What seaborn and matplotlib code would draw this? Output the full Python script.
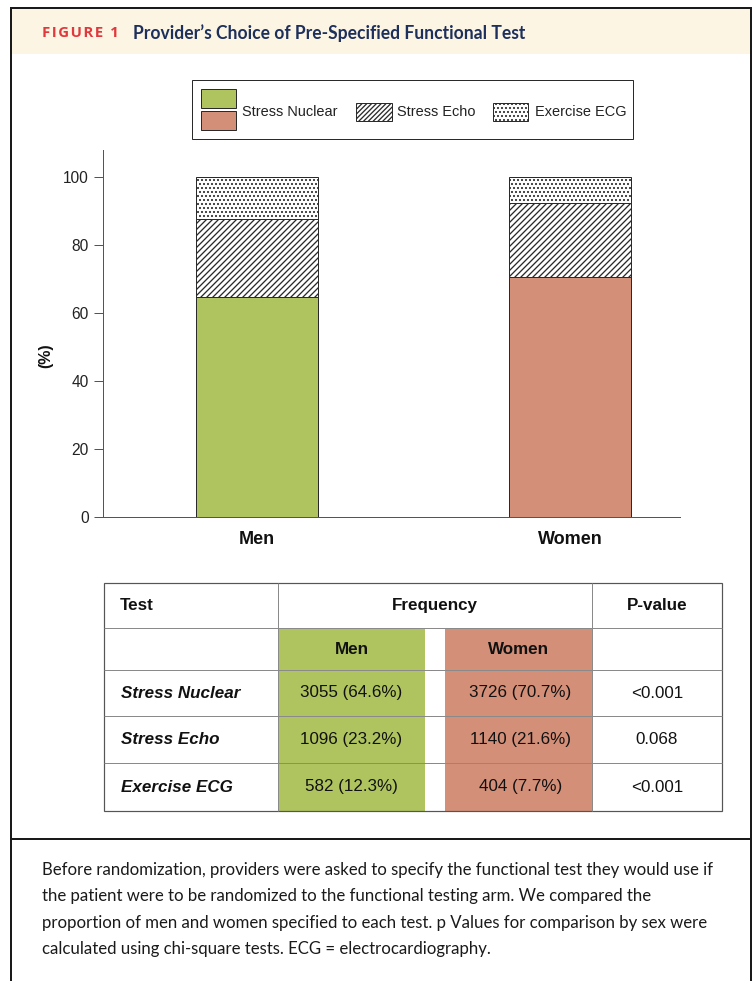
import numpy as np
import pandas as pd
import matplotlib
matplotlib.use("Agg")
import matplotlib.pyplot as plt
from matplotlib.patches import Rectangle
import seaborn as sns

# ---- data -------------------------------------------------------------
groups = ["Men", "Women"]
tests = ["Stress Nuclear", "Stress Echo", "Exercise ECG"]
nuclear_pct = [64.6, 70.7]
echo_pct = [23.2, 21.6]
ecg_pct = [12.3, 7.7]
nuclear_n = [3055, 3726]
echo_n = [1096, 1140]
ecg_n = [582, 404]
p_values = ["<0.001", "0.068", "<0.001"]
y_ticks = [0, 20, 40, 60, 80, 100]

title_tag = "FIGURE 1"
title_text = "Provider\u2019s Choice of Pre-Specified Functional Test"
caption_lines = [
    "Before randomization, providers were asked to specify the functional test they would use if",
    "the patient were to be randomized to the functional testing arm. We compared the",
    "proportion of men and women specified to each test. p Values for comparison by sex were",
    "calculated using chi-square tests. ECG = electrocardiography.",
]

# ---- style ------------------------------------------------------------
GREEN = "#AFC45F"
SALMON = "#D38F78"
EDGE = "#2a2a2a"
AXIS = "#555555"
CREAM = "#FDF5E3"
RED = "#E0383C"
NAVY = "#1D2F5C"

sns.set_theme(style="ticks")
plt.rcParams["font.family"] = ["Liberation Sans", "DejaVu Sans"]
plt.rcParams["hatch.linewidth"] = 1.3
plt.rcParams["hatch.color"] = EDGE

W, H = 755, 981
DPI = 72
fig = plt.figure(figsize=(W / DPI, H / DPI), dpi=DPI)

# background canvas in pixel units (y downwards)
bg = fig.add_axes([0, 0, 1, 1], zorder=0)
bg.set_xlim(0, W)
bg.set_ylim(H, 0)
bg.axis("off")

# panel frame and header band
bg.add_patch(Rectangle((12, 9), 738, 45, facecolor=CREAM, edgecolor="none"))
frame_kw = dict(color="#1a1a1a", lw=2, solid_capstyle="butt")
bg.plot([11, 11], [8, H], **frame_kw)
bg.plot([751, 751], [8, H], **frame_kw)
bg.plot([10, 752], [8, 8], **frame_kw)
bg.plot([10, 752], [839, 839], **frame_kw)

# letter-spaced figure tag
bg.text(42, 33, "\u200a".join(title_tag), color=RED, fontsize=15,
        fontweight="bold", family=["Open Sans", "DejaVu Sans"], va="center", ha="left")
bg.text(133, 33, title_text, color=NAVY, fontsize=17.5, fontweight="bold",
        family=["Lato", "DejaVu Sans"], va="center", ha="left")

# ---- stacked bar chart ------------------------------------------------
df = pd.DataFrame({
    "group": groups,
    "nuclear": nuclear_pct,
    "echo": echo_pct,
    "ecg": ecg_pct,
})
df["mid"] = df["nuclear"] + df["echo"]
df["top"] = df["mid"] + df["ecg"]

ax_l, ax_r, ax_t, ax_b = 103, 680, 150, 517
ax = fig.add_axes([ax_l / W, 1 - ax_b / H, (ax_r - ax_l) / W, (ax_b - ax_t) / H], zorder=1)
ax.set_facecolor("none")

bar_kw = dict(width=0.39, linewidth=1.0, edgecolor=EDGE, errorbar=None, ax=ax)
sns.barplot(data=df, x="group", y="top", color="white", saturation=1, hatch="...", **bar_kw)
sns.barplot(data=df, x="group", y="mid", color="white", saturation=1, hatch="////", **bar_kw)
sns.barplot(data=df, x="group", y="nuclear", hue="group", palette=[GREEN, SALMON],
            saturation=1, legend=False, **bar_kw)

ax.set_xlim(-0.49, 1.35)
ax.set_ylim(0, 108)
ax.set_yticks(y_ticks)
ax.set_xlabel("")
ax.set_ylabel("(%)", fontsize=16, fontweight="bold", color="#111111")
ax.yaxis.set_label_coords(-0.087, 0.44)
sns.despine(ax=ax)
for side in ("left", "bottom"):
    ax.spines[side].set_color(AXIS)
    ax.spines[side].set_linewidth(1.0)
ax.tick_params(axis="y", length=9, width=1, color=AXIS, labelsize=15.5, pad=5,
               labelcolor="#222222")
ax.tick_params(axis="x", length=0, labelsize=18, pad=14, labelcolor="#111111")
for lab in ax.get_xticklabels():
    lab.set_fontweight("bold")

# ---- legend box -------------------------------------------------------
bg.add_patch(Rectangle((192, 80), 441, 59, facecolor="white", edgecolor=EDGE, lw=1))
bg.add_patch(Rectangle((201, 89), 35, 19, facecolor=GREEN, edgecolor=EDGE, lw=1))
bg.add_patch(Rectangle((201, 111), 35, 19, facecolor=SALMON, edgecolor=EDGE, lw=1))
bg.add_patch(Rectangle((356, 103), 36, 18, facecolor="white", edgecolor=EDGE, lw=1, hatch="/////"))
bg.add_patch(Rectangle((493, 103), 35, 18, facecolor="white", edgecolor=EDGE, lw=1, hatch="..."))
leg_kw = dict(fontsize=14.5, va="center", ha="left", color="#222222")
bg.text(242, 112, tests[0], **leg_kw)
bg.text(397, 112, tests[1], **leg_kw)
bg.text(535, 112, tests[2], **leg_kw)

# ---- frequency table --------------------------------------------------
x0, x1, xg0, xg1, x2, x3 = 104, 278, 425, 445, 592, 722
rows_y = [583, 628, 670, 716, 763, 811]
bg.add_patch(Rectangle((x1, rows_y[1]), xg0 - x1, rows_y[-1] - rows_y[1], facecolor=GREEN, edgecolor="none"))
bg.add_patch(Rectangle((xg1, rows_y[1]), x2 - xg1, rows_y[-1] - rows_y[1], facecolor=SALMON, edgecolor="none"))
grid_kw = dict(color="#8a8a8a", lw=1, solid_capstyle="butt")
for yy in rows_y[1:-1]:
    bg.plot([x0, x3], [yy, yy], **grid_kw)
for xx in (x1, x2):
    bg.plot([xx, xx], [rows_y[0], rows_y[-1]], **grid_kw)
bg.add_patch(Rectangle((x0, rows_y[0]), x3 - x0, rows_y[-1] - rows_y[0], facecolor="none",
                       edgecolor="#555555", lw=1.2))

def mid(a, b):
    return (a + b) / 2

tkw = dict(fontsize=17, va="center", color="#111111")
bg.text(120, mid(rows_y[0], rows_y[1]), "Test", ha="left", fontweight="bold", **tkw)
bg.text(mid(x1, x2), mid(rows_y[0], rows_y[1]), "Frequency", ha="center", fontweight="bold", **tkw)
bg.text(mid(x2, x3), mid(rows_y[0], rows_y[1]), "P-value", ha="center", fontweight="bold", **tkw)
bg.text(mid(x1, xg0), mid(rows_y[1], rows_y[2]), groups[0], ha="center", fontweight="bold", **tkw)
bg.text(mid(xg1, x2), mid(rows_y[1], rows_y[2]), groups[1], ha="center", fontweight="bold", **tkw)

counts = [nuclear_n, echo_n, ecg_n]
pcts = [nuclear_pct, echo_pct, ecg_pct]
for i, test in enumerate(tests):
    yc = mid(rows_y[i + 2], rows_y[i + 3])
    bg.text(121, yc, test, ha="left", fontweight="bold", style="italic", **tkw)
    bg.text(mid(x1, xg0), yc, f"{counts[i][0]} ({pcts[i][0]}%)", ha="center", **tkw)
    bg.text(mid(xg1, x2) + 2, yc, f"{counts[i][1]} ({pcts[i][1]}%)", ha="center", **tkw)
    bg.text(mid(x2, x3), yc, p_values[i], ha="center", **tkw)

# ---- caption ----------------------------------------------------------
for i, line in enumerate(caption_lines):
    bg.text(42, 870 + 26.3 * i, line, fontsize=16.8, family=["Lato", "DejaVu Sans"],
            color="#1a1a1a", va="center", ha="left")

fig.savefig("out.png", dpi=DPI)
